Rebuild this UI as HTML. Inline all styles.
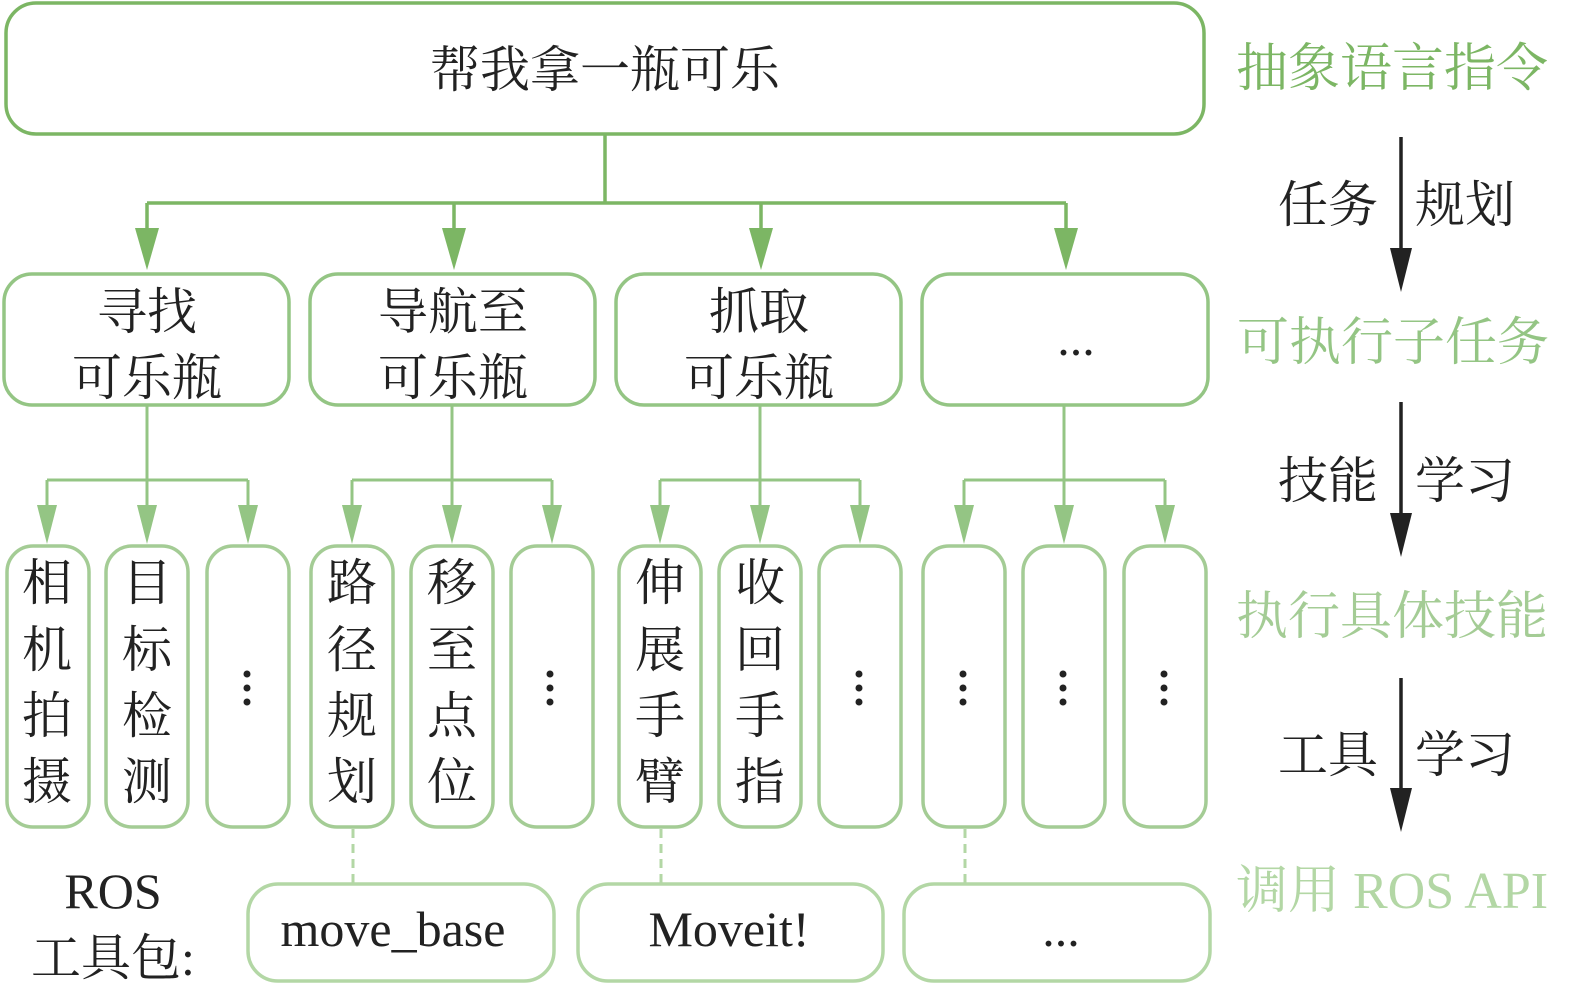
<!DOCTYPE html>
<html><head><meta charset="utf-8"><style>
html,body{margin:0;padding:0;background:#fff;}
svg{display:block;}
text{font-family:"Liberation Serif","Noto Serif CJK SC",serif;}
</style></head><body>
<svg width="1575" height="998" viewBox="0 0 1575 998" xmlns="http://www.w3.org/2000/svg">
<defs>
<marker id="ga" markerWidth="24" markerHeight="40" refX="12" refY="40" orient="auto-start-reverse" markerUnits="userSpaceOnUse" viewBox="0 0 24 40"><path d="M0,0 L24,0 L12,40 Z" fill="#7cb664"/></marker>
</defs>
<!-- top box -->
<rect x="6" y="3" width="1198" height="131" rx="30" fill="#fff" stroke="#7cb664" stroke-width="3.5"/>
<text x="605" y="87" font-size="50" text-anchor="middle" fill="#222">帮我拿一瓶可乐</text>
<!-- level1 connectors -->
<g stroke="#7cb664" stroke-width="3.5" fill="none">
<path d="M605,135 V203 M147,203 H1066"/>
<path d="M147,203 V228 M454,203 V228 M761,203 V228 M1066,203 V228"/>
</g>
<g fill="#7cb664">
<path d="M135,228 L159,228 L147,270 Z"/><path d="M442,228 L466,228 L454,270 Z"/>
<path d="M749,228 L773,228 L761,270 Z"/><path d="M1054,228 L1078,228 L1066,270 Z"/>
</g>
<!-- level2 boxes -->
<g fill="#fff" stroke="#94c584" stroke-width="3.5">
<rect x="4" y="274" width="285" height="131" rx="28"/>
<rect x="310" y="274" width="285" height="131" rx="28"/>
<rect x="616" y="274" width="285" height="131" rx="28"/>
<rect x="922" y="274" width="286" height="131" rx="28"/>
</g>
<g font-size="50" text-anchor="middle" fill="#222">
<text x="147" y="329">寻找</text><text x="147" y="395">可乐瓶</text>
<text x="453" y="329">导航至</text><text x="453" y="395">可乐瓶</text>
<text x="759" y="329">抓取</text><text x="759" y="395">可乐瓶</text>
<text x="1076" y="355">...</text>
</g>
<!-- level2 connectors -->
<g stroke="#94c584" stroke-width="3" fill="none">
<path d="M147,406 V510 M47,480 H248 M47,480 V510 M248,480 V510"/>
<path d="M452,406 V510 M352,480 H552 M352,480 V510 M552,480 V510"/>
<path d="M760,406 V510 M660,480 H860 M660,480 V510 M860,480 V510"/>
<path d="M1064,406 V510 M964,480 H1165 M964,480 V510 M1165,480 V510"/>
</g>
<g fill="#94c584">
<path d="M37,505 L57,505 L47,544 Z"/><path d="M137,505 L157,505 L147,544 Z"/><path d="M238,505 L258,505 L248,544 Z"/>
<path d="M342,505 L362,505 L352,544 Z"/><path d="M442,505 L462,505 L452,544 Z"/><path d="M542,505 L562,505 L552,544 Z"/>
<path d="M650,505 L670,505 L660,544 Z"/><path d="M750,505 L770,505 L760,544 Z"/><path d="M850,505 L870,505 L860,544 Z"/>
<path d="M954,505 L974,505 L964,544 Z"/><path d="M1054,505 L1074,505 L1064,544 Z"/><path d="M1155,505 L1175,505 L1165,544 Z"/>
</g>
<!-- level3 boxes -->
<g fill="#fff" stroke="#a4cc95" stroke-width="3.5">
<rect x="7" y="546" width="82" height="281" rx="26"/>
<rect x="106" y="546" width="82" height="281" rx="26"/>
<rect x="207" y="546" width="82" height="281" rx="26"/>
<rect x="311" y="546" width="82" height="281" rx="26"/>
<rect x="411" y="546" width="82" height="281" rx="26"/>
<rect x="511" y="546" width="82" height="281" rx="26"/>
<rect x="619" y="546" width="82" height="281" rx="26"/>
<rect x="719" y="546" width="82" height="281" rx="26"/>
<rect x="819" y="546" width="82" height="281" rx="26"/>
<rect x="923" y="546" width="82" height="281" rx="26"/>
<rect x="1023" y="546" width="82" height="281" rx="26"/>
<rect x="1124" y="546" width="82" height="281" rx="26"/>
</g>
<g font-size="50" text-anchor="middle" fill="#222">
<text x="47" y="600">相</text><text x="47" y="667">机</text><text x="47" y="733">拍</text><text x="47" y="799">摄</text>
<text x="147" y="600">目</text><text x="147" y="667">标</text><text x="147" y="733">检</text><text x="147" y="799">测</text>
<text x="352" y="600">路</text><text x="352" y="667">径</text><text x="352" y="733">规</text><text x="352" y="799">划</text>
<text x="452" y="600">移</text><text x="452" y="667">至</text><text x="452" y="733">点</text><text x="452" y="799">位</text>
<text x="660" y="600">伸</text><text x="660" y="667">展</text><text x="660" y="733">手</text><text x="660" y="799">臂</text>
<text x="760" y="600">收</text><text x="760" y="667">回</text><text x="760" y="733">手</text><text x="760" y="799">指</text>
</g>
<g fill="#222">
<circle cx="247" cy="674" r="3.5"/><circle cx="247" cy="688" r="3.5"/><circle cx="247" cy="702" r="3.5"/>
<circle cx="550" cy="674" r="3.5"/><circle cx="550" cy="688" r="3.5"/><circle cx="550" cy="702" r="3.5"/>
<circle cx="859" cy="674" r="3.5"/><circle cx="859" cy="688" r="3.5"/><circle cx="859" cy="702" r="3.5"/>
<circle cx="963" cy="674" r="3.5"/><circle cx="963" cy="688" r="3.5"/><circle cx="963" cy="702" r="3.5"/>
<circle cx="1063" cy="674" r="3.5"/><circle cx="1063" cy="688" r="3.5"/><circle cx="1063" cy="702" r="3.5"/>
<circle cx="1164" cy="674" r="3.5"/><circle cx="1164" cy="688" r="3.5"/><circle cx="1164" cy="702" r="3.5"/>
</g>
<!-- dashed -->
<g stroke="#b3d7a5" stroke-width="3" stroke-dasharray="9,6">
<path d="M353,829 V883 M661,829 V883 M965,829 V883"/>
</g>
<!-- bottom boxes -->
<g fill="#fff" stroke="#b3d7a5" stroke-width="3.5">
<rect x="248" y="884" width="306" height="97" rx="30"/>
<rect x="578" y="884" width="305" height="97" rx="30"/>
<rect x="904" y="884" width="306" height="97" rx="30"/>
</g>
<g font-size="50" text-anchor="middle" fill="#222">
<text x="393" y="946">move_base</text>
<text x="729" y="946">Moveit!</text>
<text x="1061" y="946">...</text>
<text x="113" y="908">ROS</text>
<text x="113" y="975">工具包:</text>
</g>
<!-- right labels -->
<g font-size="52" fill="#7cb664">
<text x="1236" y="86">抽象语言指令</text>
</g>
<text x="1237" y="360" font-size="52" fill="#94c584">可执行子任务</text>
<text x="1236" y="634" font-size="52" fill="#a4cc95">执行具体技能</text>
<text x="1236" y="908" font-size="52" fill="#b3d7a5">调用 ROS API</text>
<!-- black arrows -->
<g stroke="#222" stroke-width="3.5">
<path d="M1401,137 V250 M1401,402 V515 M1401,678 V790"/>
</g>
<g fill="#222">
<path d="M1390,248 L1412,248 L1401,292 Z"/>
<path d="M1390,513 L1412,513 L1401,557 Z"/>
<path d="M1390,788 L1412,788 L1401,832 Z"/>
</g>
<g font-size="50" fill="#222">
<text x="1278" y="222">任务</text><text x="1415" y="222">规划</text>
<text x="1278" y="498">技能</text><text x="1415" y="498">学习</text>
<text x="1278" y="772">工具</text><text x="1415" y="772">学习</text>
</g>
</svg>
</body></html>
